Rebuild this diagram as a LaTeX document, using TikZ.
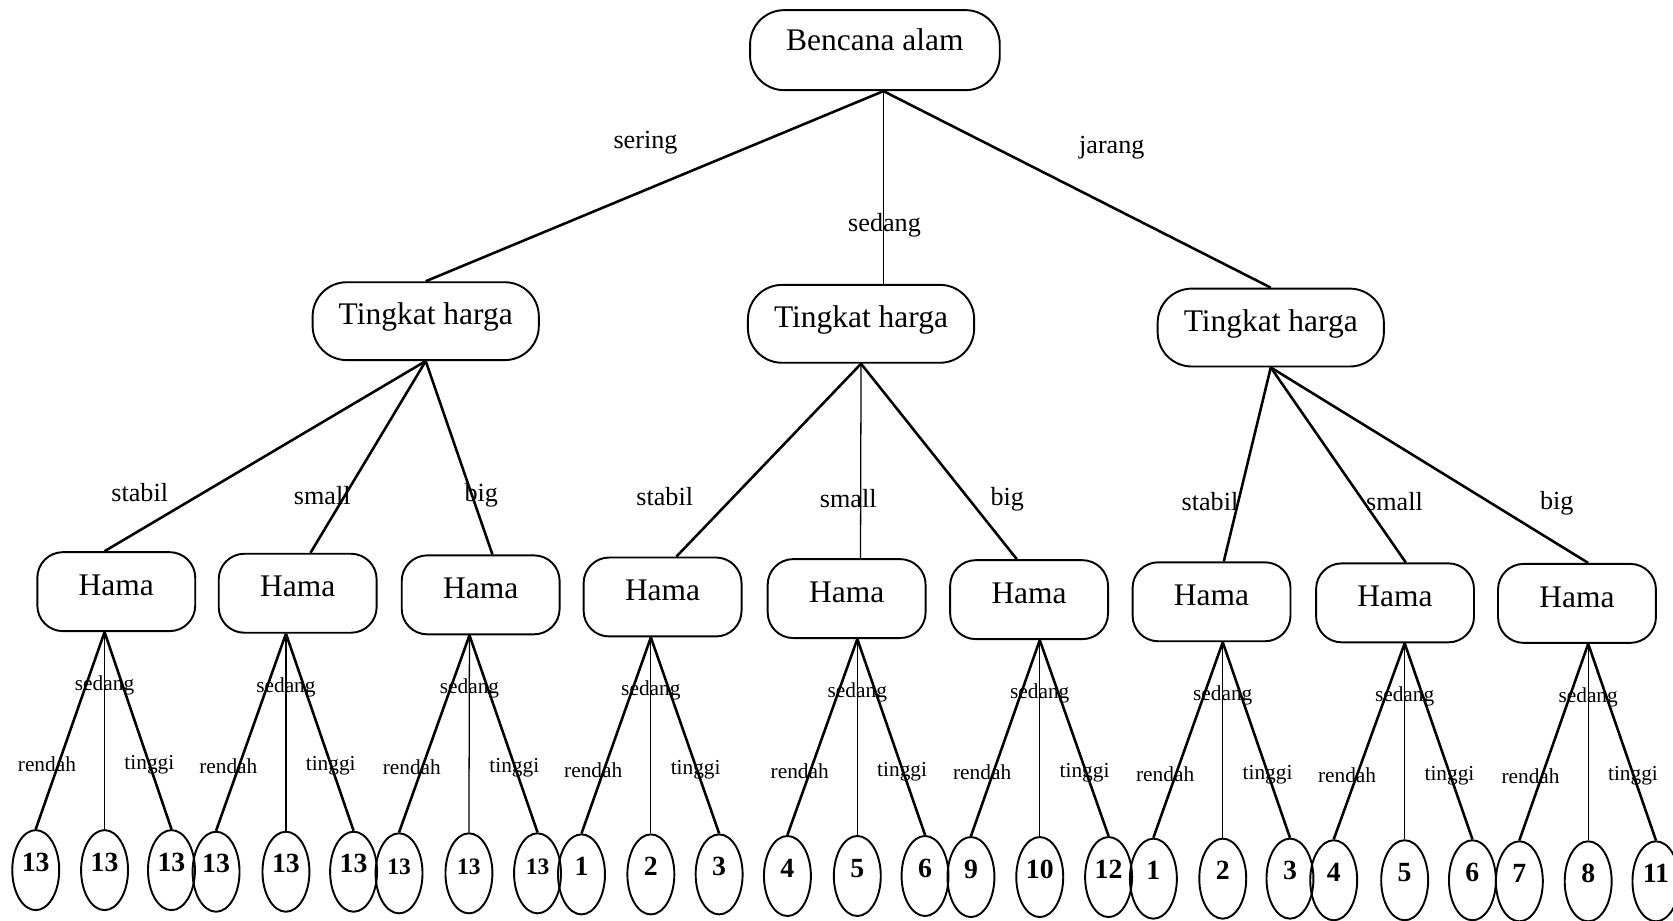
\documentclass[tikz,border=0pt]{standalone}
\usepackage{fontspec}
\setmainfont{Liberation Serif}
\usetikzlibrary{shapes.geometric,calc}

\begin{document}
\begin{tikzpicture}[x=0.5pt,y=-0.5pt,
  box/.style={draw, line width=0.9pt, inner sep=0pt,
    font=\fontsize{14.75}{16}\selectfont, text height=10pt, text depth=6.5pt},
  rootbox/.style={box, minimum width=117pt, minimum height=37.5pt,
    rounded corners=16pt, text depth=10pt},
  pricebox/.style={box, minimum width=106pt, minimum height=36.5pt,
    rounded corners=16pt},
  pestbox/.style={box, minimum width=74pt, minimum height=37pt,
    rounded corners=12pt},
  leaf/.style={draw, ellipse, line width=0.9pt, inner sep=0pt,
    minimum width=22pt, minimum height=37.5pt,
    font=\fontsize{13}{14}\bfseries\selectfont,
    text height=9.5pt, text depth=8.5pt},
  smallleaf/.style={leaf, font=\fontsize{11}{12}\bfseries\selectfont},
  edge/.style={line width=1.2pt},
  vedge/.style={line width=0.6pt},
  toplabel/.style={font=\fontsize{12.25}{14}\selectfont, inner sep=0pt},
  sublabel/.style={font=\fontsize{10}{12}\selectfont, inner sep=0pt}
]
\useasboundingbox (0,0) rectangle (1568,863);

% root and price level
\node[rootbox] (root) at (820,47) {Bencana alam};
\node[pricebox] (p1) at (399,301) {Tingkat harga};
\node[pricebox] (p2) at (807,303.5) {Tingkat harga};
\node[pricebox] (p3) at (1191,307) {Tingkat harga};

\coordinate (rhub) at ([xshift=4pt]root.south);
\draw[edge] (rhub) -- (p1.north);
\draw[vedge] (rhub) -- ([xshift=10.5pt]p2.north);
\draw[edge] (rhub) -- (p3.north);
\node[toplabel] at (605,134) {sering};
\node[toplabel] at (829,211) {sedang};
\node[toplabel] at (1042,138) {jarang};

% pest level
\node[pestbox] (h1) at (109,554.5) {Hama};
\node[pestbox] (h2) at (279,556) {Hama};
\node[pestbox] (h3) at (450.5,557.5) {Hama};
\node[pestbox] (h4) at (621,559.5) {Hama};
\node[pestbox] (h5) at (793.5,561) {Hama};
\node[pestbox] (h6) at (964.5,562) {Hama};
\node[pestbox] (h7) at (1135.5,564) {Hama};
\node[pestbox] (h8) at (1307.5,565) {Hama};
\node[pestbox] (h9) at (1478,565.5) {Hama};

\draw[edge] (p1.south) -- ([xshift=-5.5pt]h1.north);
\draw[edge] (p1.south) -- ([xshift=6pt]h2.north);
\draw[edge] (p1.south) -- ([xshift=5.5pt]h3.north);
\draw[edge] (p2.south) -- ([xshift=6.5pt]h4.north);
\draw[vedge] (p2.south) -- ([xshift=6.5pt]h5.north);
\draw[edge] (p2.south) -- ([xshift=-5.75pt]h6.north);
\draw[edge] (p3.south) -- ([xshift=5.75pt]h7.north);
\draw[edge] (p3.south) -- ([xshift=5pt]h8.north);
\draw[edge] (p3.south) -- ([xshift=5.25pt]h9.north);

\node[toplabel] at (131,462) {stabil};
\node[toplabel] at (302,464) {small};
\node[toplabel] at (451,464) {big};
\node[toplabel] at (623,465) {stabil};
\node[toplabel] at (795,467) {small};
\node[toplabel] at (944,468) {big};
\node[toplabel] at (1134,470) {stabil};
\node[toplabel] at (1307,470) {small};
\node[toplabel] at (1459,472) {big};

% hubs under the pest boxes
\coordinate (hub1) at ([xshift=-5.5pt]h1.south);
\coordinate (hub2) at ([xshift=-5.5pt]h2.south);
\coordinate (hub3) at ([xshift=-5.25pt]h3.south);
\coordinate (hub4) at ([xshift=-5.5pt]h4.south);
\coordinate (hub5) at ([xshift=5pt]h5.south);
\coordinate (hub6) at ([xshift=5pt]h6.south);
\coordinate (hub7) at ([xshift=5.25pt]h7.south);
\coordinate (hub8) at ([xshift=4.5pt]h8.south);
\coordinate (hub9) at ([xshift=5.25pt]h9.south);

% leaves
\node[leaf] (k1a) at (33.5,815.5) {13};
\node[leaf] (k1b) at (98,815.5) {13};
\node[leaf] (k1c) at (160.7,815.5) {13};
\node[leaf] (k2a) at (202.5,817) {13};
\node[leaf] (k2b) at (268,817) {13};
\node[leaf] (k2c) at (331.4,817) {13};
\node[smallleaf] (k3a) at (374,818.5) {13};
\node[smallleaf] (k3b) at (439.5,818.5) {13};
\node[smallleaf] (k3c) at (503.8,818.5) {13};
\node[leaf] (k4a) at (545,819.5) {1};
\node[leaf] (k4b) at (610,819.5) {2};
\node[leaf] (k4c) at (674,819.5) {3};
\node[leaf] (k5a) at (738,821) {4};
\node[leaf] (k5b) at (803.5,821) {5};
\node[leaf] (k5c) at (867,821) {6};
\node[leaf] (k6a) at (910,822) {9};
\node[leaf] (k6b) at (974.5,822) {10};
\node[leaf] (k6c) at (1039,822) {12};
\node[leaf] (k7a) at (1081,823.5) {1};
\node[leaf] (k7b) at (1146,823.5) {2};
\node[leaf] (k7c) at (1209,823.5) {3};
\node[leaf] (k8a) at (1250,825) {4};
\node[leaf] (k8b) at (1316.5,825) {5};
\node[leaf] (k8c) at (1380,825) {6};
\node[leaf] (k9a) at (1424,826) {7};
\node[leaf] (k9b) at (1488.5,826) {8};
\node[leaf] (k9c) at (1552,826) {11};

\foreach \h in {1,...,9} {
  \draw[edge] (hub\h) -- (k\h a.north);
  \draw[vedge] (hub\h) -- (k\h b.north);
  \draw[edge] (hub\h) -- (k\h c.north);
  \node[sublabel] at ($(hub\h)+(0,50)$) {sedang};
  \node[sublabel] at ($(hub\h)+(-54,124)$) {rendah};
  \node[sublabel] at ($(hub\h)+(42,124)$) {tinggi};
}
\end{tikzpicture}
\end{document}
